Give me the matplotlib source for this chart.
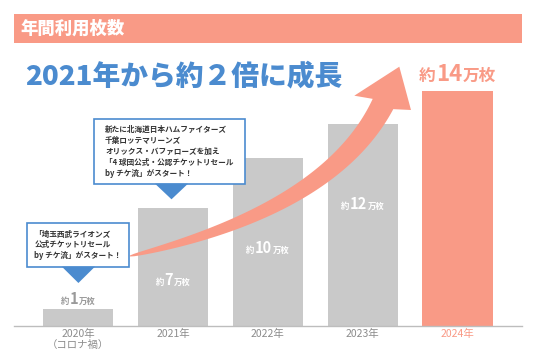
import numpy as np
import matplotlib
matplotlib.use('Agg')
import matplotlib.pyplot as plt
from matplotlib.patches import Rectangle, Polygon
from matplotlib.offsetbox import TextArea, HPacker, AnnotationBbox

plt.rcParams['font.family'] = ['Noto Sans CJK JP', 'DejaVu Sans']

# ---- data ----
years = ['2020年\n（コロナ禍）', '2021年', '2022年', '2023年', '2024年']
values = [1, 7, 10, 12, 14]
value_text = ['1', '7', '10', '12', '14']
header_title = '年間利用枚数'
main_title = '2021年から約２倍に成長'
callout1_lines = ['新たに北海道日本ハムファイターズ', '千葉ロッテマリーンズ',
                  'オリックス・バファローズを加え', '「4 球団公式・公認チケットリセール',
                  'by チケ流」がスタート！']
callout2_lines = ['「埼玉西武ライオンズ', '公式チケットリセール', 'by チケ流」がスタート！']

# label vertical positions (data units)
label_y = [1.59, 2.72, 4.61, 7.26, 14.98]

GRAY = '#C9C9C9'
PINK = '#F99A86'
BLUE = '#4B8BCF'
TXT = '#333333'

W, H = 536, 357
fig = plt.figure(figsize=(W / 100, H / 100), dpi=100)

PX_PER_UNIT = 16.76
ax = fig.add_axes([13.7 / W, 31.4 / H, 508.3 / W, 311.6 / H])
x = np.arange(len(values))
colors = [GRAY] * 4 + [PINK]
ax.bar(x, values, width=0.74, color=colors, zorder=2)
ax.set_xlim(-0.68, 4.68)
ax.set_ylim(0, 311.6 / PX_PER_UNIT)
for s in ['top', 'right', 'left']:
    ax.spines[s].set_visible(False)
ax.spines['bottom'].set_color('#BDBDBD')
ax.spines['bottom'].set_linewidth(1.0)
ax.set_yticks([])
ax.set_xticks(x)
ax.set_xticklabels(years, fontsize=7.5, color='#8C8C8C', linespacing=1.15)
ax.tick_params(axis='x', length=0, pad=2.5)
ax.get_xticklabels()[4].set_color(PINK)
ax.patch.set_visible(False)


def mixed_label(xy, num, color, small, big):
    tp_s = dict(fontsize=small, color=color, fontweight='bold')
    tp_b = dict(fontsize=big, color=color, fontweight='bold')
    parts = [TextArea('約', textprops=tp_s), TextArea(num, textprops=tp_b),
             TextArea('万枚', textprops=tp_s)]
    box = HPacker(children=parts, align='baseline', pad=0, sep=0.5)
    ab = AnnotationBbox(box, xy, xycoords='data', frameon=False,
                        box_alignment=(0.5, 0.5), pad=0, zorder=4)
    ax.add_artist(ab)


label_colors = ['#9A9A9A', 'white', 'white', 'white', PINK]
for i, (v, t) in enumerate(zip(values, value_text)):
    if i < 4:
        mixed_label((x[i], label_y[i]), t, label_colors[i], 6, 10.5)
    else:
        mixed_label((x[i], label_y[i]), t, label_colors[i], 12, 16)

# ---- overlay for decorations (pixel coords, y down) ----
ov = fig.add_axes([0, 0, 1, 1], zorder=5)
ov.set_xlim(0, W)
ov.set_ylim(H, 0)
ov.axis('off')
ov.patch.set_visible(False)

ov.add_patch(Rectangle((14, 14.3), 508, 28.4, color=PINK, lw=0))
ov.text(20.5, 28.5, header_title, color='white', fontsize=12.5,
        fontweight='heavy', va='center', ha='left')
ov.text(25, 76, main_title, color=BLUE, fontsize=20, fontweight='heavy',
        va='center', ha='left')

# curved arrow
P0 = np.array([130.0, 256.0])
P1 = np.array([330.0, 210.0])
P2 = np.array([383.0, 104.0])
t = np.linspace(0, 1, 100)
B = ((1 - t) ** 2)[:, None] * P0 + (2 * t * (1 - t))[:, None] * P1 + (t ** 2)[:, None] * P2
dB = (2 * (1 - t))[:, None] * (P1 - P0) + (2 * t)[:, None] * (P2 - P1)
nrm = np.stack([-dB[:, 1], dB[:, 0]], axis=1)
nrm /= np.linalg.norm(nrm, axis=1)[:, None]
w = 1.0 + 22.0 * t ** 0.6
edgeA = B - nrm * (w / 2)[:, None]
edgeB = B + nrm * (w / 2)[:, None]
head = np.array([[354.3, 95.7], [399.3, 66.7], [411.0, 110.0]])
poly = np.vstack([edgeA, head, edgeB[::-1]])
ov.add_patch(Polygon(poly, closed=True, facecolor=PINK, edgecolor='none'))


def callout(x0, y0, x1, y1, tri_cx, tri_w, tri_tip, lines, tx, ty0, dy):
    ov.add_patch(Rectangle((x0, y0), x1 - x0, y1 - y0, facecolor='white',
                           edgecolor=BLUE, lw=1.2, zorder=3))
    ov.add_patch(Polygon([(tri_cx - tri_w / 2, y1), (tri_cx + tri_w / 2, y1),
                          (tri_cx, tri_tip)], closed=True, facecolor=BLUE,
                         edgecolor='none', zorder=3))
    for k, ln in enumerate(lines):
        ov.text(tx, ty0 + k * dy, ln, fontsize=5.5, color=TXT, fontweight='bold',
                va='center', ha='left', zorder=4)


callout(94, 119.3, 245, 183.7, 171.5, 33, 199.3, callout1_lines, 105, 129.8, 11)
callout(26.7, 222.7, 129.3, 266.7, 78.4, 33, 283, callout2_lines, 34.3, 234, 11)

fig.savefig('out.png', dpi=100)
